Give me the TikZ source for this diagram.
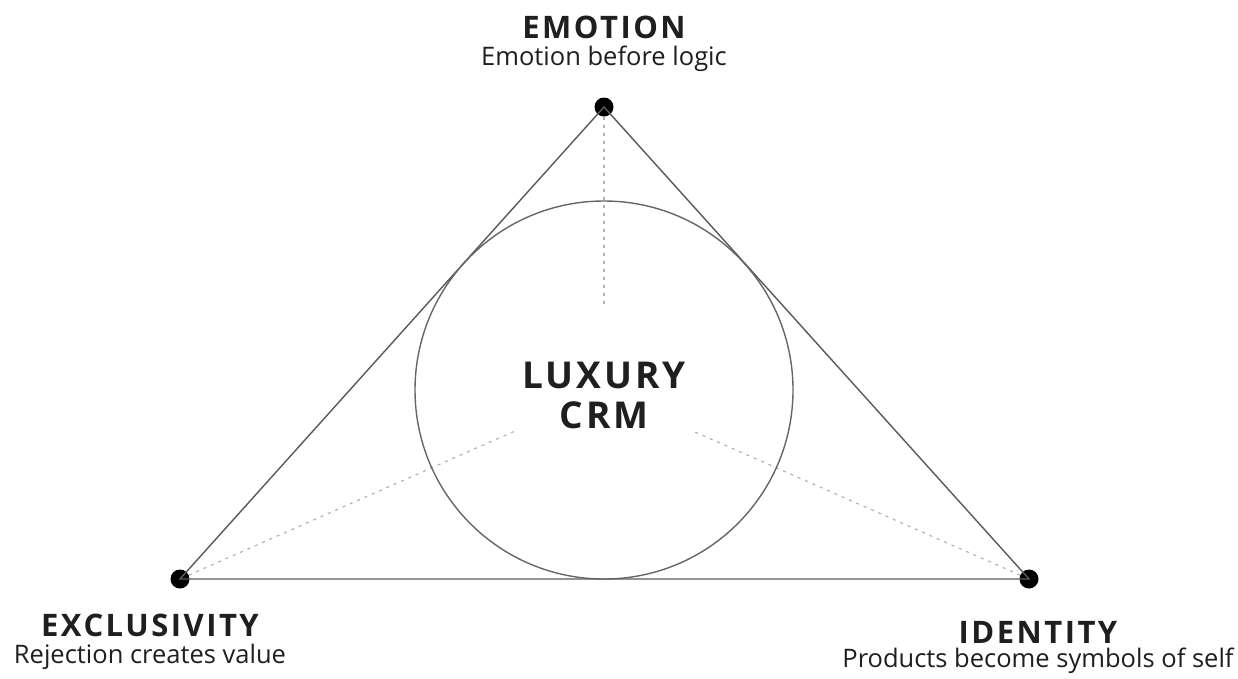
\documentclass[tikz,border=0pt]{standalone}
\usepackage{fontspec}
\setmainfont{Open Sans}
\newfontfamily\headfont[LetterSpace=8]{Open Sans}
\usetikzlibrary{positioning}

\begin{document}
\begin{tikzpicture}[x=1pt, y=-1pt,
    vertice/.style={circle, fill=black, inner sep=0pt, minimum size=19pt},
    lato/.style={draw=black!65, line width=1.4pt},
    guida/.style={draw=black!30, line width=1.2pt, dash pattern=on 3pt off 5pt},
    titolo/.style={font=\headfont\fontsize{31}{33}\selectfont\bfseries, text=black!88, inner sep=0pt},
    sotto/.style={font=\fontsize{25.5}{27}\selectfont, text=black!88, inner sep=0pt}]
        % Area
        \useasboundingbox (0,0) rectangle (1238,678);

        % Vertici
        \node[vertice] (Emo) at (604,107) {};
        \node[vertice] (Excl) at (180,579) {};
        \node[vertice] (Ident) at (1029,579) {};
        \coordinate (Centro) at (604,390);

        % Estremi delle linee guida
        \coordinate (gEmo) at (604,305);
        \coordinate (gExcl) at (515,431);
        \coordinate (gIdent) at (695,432);

        % Linee guida (tratteggiate)
        \draw[guida] (Emo) -- (gEmo);
        \draw[guida] (Excl) -- (gExcl);
        \draw[guida] (Ident) -- (gIdent);

        % Triangolo
        \draw[lato] (Emo.center) -- (Excl.center) -- (Ident.center) -- cycle;

        % Cerchio inscritto
        \draw[draw=black!60, line width=1.4pt] (Centro) circle (189);

        % Etichette
        \node[titolo] (tEmo) at (604,27) {EMOTION};
        \node[sotto, below=7pt of tEmo] (sEmo) {Emotion before logic};

        \node[titolo] (tExcl) at (150,625) {EXCLUSIVITY};
        \node[sotto, below=7pt of tExcl] (sExcl) {Rejection creates value};

        \node[titolo] (tIdent) at (1038,632) {IDENTITY};
        \node[sotto, below=5pt of tIdent] (sIdent) {Products become symbols of self};

        % Centro
        \node[font=\headfont\fontsize{37}{37}\selectfont\bfseries, text=black!88, align=center, inner sep=0pt] (tCentro) at (604,395) {LUXURY\\[3pt]CRM};
\end{tikzpicture}
\end{document}
